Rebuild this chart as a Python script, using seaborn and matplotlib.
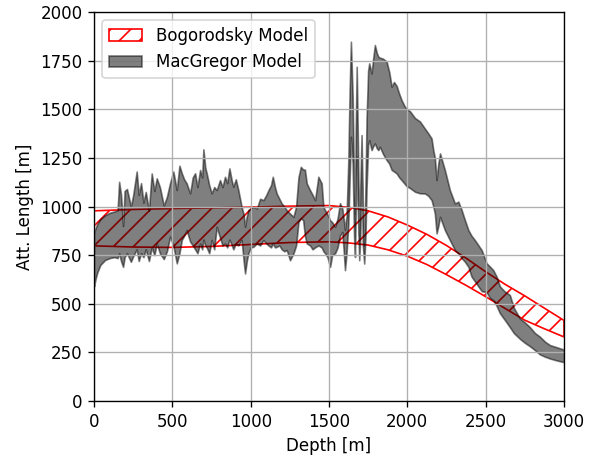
import numpy as np
import matplotlib
matplotlib.use('Agg')
import matplotlib.pyplot as plt
import seaborn as sns

# Bogorodsky model band (depth in m, attenuation length in m)
bog_depth = [0, 250, 500, 750, 1000, 1250, 1500, 1625, 1750, 1875, 2000,
             2125, 2250, 2375, 2500, 2625, 2750, 2875, 3000]
bog_upper = [978, 985, 990, 993, 997, 1002, 1005, 996, 978, 947, 905,
             857, 800, 735, 665, 600, 541, 478, 415]
bog_lower = [798, 792, 790, 795, 805, 815, 819, 813, 802, 778, 745,
             702, 650, 595, 537, 476, 416, 372, 330]

# MacGregor model band
mac_depth = [
    0, 10, 20, 40, 70, 100, 130, 150, 160, 172,
    185, 195, 210, 235, 250, 272, 285, 300, 315, 330,
    350, 368, 385, 400, 420, 445, 465, 485, 506, 528,
    545, 560, 575, 591, 613, 630, 645, 660, 677, 690,
    698, 710, 719, 735, 751, 767, 783, 804, 820, 836,
    850, 864, 880, 889, 905, 921, 942, 955, 964, 975,
    985, 1000, 1017, 1039, 1060, 1081, 1100, 1113, 1130, 1141,
    1155, 1166, 1183, 1198, 1215, 1230, 1251, 1273, 1290, 1305,
    1320, 1335, 1346, 1358, 1379, 1395, 1411, 1432, 1453, 1464,
    1475, 1490, 1507, 1520, 1539, 1555, 1570, 1585, 1595, 1602,
    1612, 1623, 1632, 1640, 1651, 1660, 1666, 1671, 1677, 1685,
    1693, 1700, 1708, 1716, 1725, 1733, 1740, 1750, 1757, 1772,
    1782, 1793, 1805, 1815, 1825, 1845, 1868, 1885, 1900, 1915,
    1932, 1948, 1963, 1980, 1995, 2017, 2049, 2081, 2113, 2134,
    2155, 2166, 2176, 2187, 2198, 2209, 2240, 2272, 2304, 2326,
    2347, 2368, 2390, 2410, 2432, 2475, 2506, 2528, 2549, 2570,
    2591, 2620, 2655, 2680, 2719, 2750, 2783, 2815, 2847, 2880,
    2911, 2950, 3000,
]
mac_upper = [
    865, 890, 910, 935, 955, 968, 975, 980, 1127, 1060,
    900, 1080, 1090, 1000, 1060, 1180, 1060, 1120, 1020, 1075,
    980, 1170, 1080, 1145, 1100, 1005, 1050, 1120, 1180, 1085,
    1210, 1171, 1140, 1119, 1068, 1150, 1171, 1100, 1188, 1150,
    1294, 1200, 1171, 1110, 1068, 1100, 1085, 1136, 1100, 1153,
    1120, 1196, 1130, 1102, 1140, 1085, 999, 960, 896, 950,
    982, 990, 999, 990, 1040, 1033, 1060, 1084, 1110, 1153,
    1100, 1067, 1040, 1016, 1000, 981, 964, 947, 1000, 1150,
    1204, 1190, 1190, 1119, 1084, 1060, 1033, 1153, 1119, 1000,
    981, 960, 930, 920, 896, 940, 1017, 990, 930, 880,
    950, 1221, 1600, 1847, 1564, 1100, 964, 1400, 1718, 1300,
    850, 1100, 1367, 1000, 800, 1100, 1450, 1700, 1736, 1684,
    1760, 1830, 1790, 1770, 1765, 1760, 1745, 1690, 1616, 1640,
    1620, 1580, 1548, 1520, 1500, 1490, 1455, 1437, 1400, 1376,
    1350, 1290, 1250, 1136, 1220, 1273, 1187, 1084, 1016, 1025,
    982, 930, 879, 850, 827, 776, 709, 691, 673, 640,
    590, 565, 545, 480, 425, 405, 380, 350, 331, 305,
    288, 278, 265,
]
mac_lower = [
    590, 630, 660, 700, 725, 735, 740, 735, 760, 720,
    690, 740, 760, 716, 745, 780, 720, 760, 740, 780,
    720, 790, 750, 810, 760, 730, 770, 845, 800, 708,
    760, 828, 850, 879, 820, 800, 780, 760, 810, 780,
    830, 800, 790, 760, 828, 780, 896, 840, 800, 810,
    790, 830, 800, 780, 810, 800, 828, 720, 656, 720,
    759, 790, 793, 810, 800, 827, 810, 800, 790, 810,
    790, 793, 800, 780, 770, 776, 724, 759, 800, 920,
    940, 930, 850, 810, 800, 780, 790, 800, 790, 770,
    760, 740, 690, 750, 760, 790, 850, 870, 760, 673,
    760, 900, 1150, 1359, 1221, 850, 741, 1000, 1256, 950,
    724, 850, 1187, 800, 707, 850, 1100, 1320, 1341, 1290,
    1310, 1324, 1300, 1290, 1307, 1270, 1239, 1220, 1188, 1180,
    1170, 1150, 1136, 1120, 1105, 1095, 1076, 1068, 1067, 1055,
    1033, 1000, 964, 862, 900, 947, 879, 827, 776, 759,
    735, 716, 690, 640, 615, 565, 560, 530, 519, 490,
    452, 420, 380, 350, 320, 300, 282, 262, 240, 228,
    219, 210, 200,
]

sns.set_style('ticks')
plt.rcParams.update({
    'font.family': 'DejaVu Sans',
    'axes.grid': True,
    'axes.axisbelow': 'line',
    'grid.color': '#b0b0b0',
    'axes.edgecolor': 'black',
    'axes.labelcolor': 'black',
    'xtick.color': 'black',
    'ytick.color': 'black',
    'text.color': 'black',
})

fig, ax = plt.subplots(figsize=(607 / 120, 460 / 120), dpi=120)
fig.subplots_adjust(left=0.155, right=0.929, bottom=0.128, top=0.974)

ax.fill_between(bog_depth, bog_lower, bog_upper, facecolor='none',
                edgecolor='red', hatch='//', label='Bogorodsky Model')
ax.fill_between(mac_depth, mac_lower, mac_upper, color='k', alpha=0.5,
                label='MacGregor Model')

ax.set_xlim(0, 3000)
ax.set_ylim(0, 2000)
ax.set_xticks(np.arange(0, 3001, 500))
ax.set_yticks(np.arange(0, 2001, 250))
ax.set_xlabel('Depth [m]')
ax.set_ylabel('Att. Length [m]')
ax.legend(loc='upper left', frameon=True)

fig.savefig('out.png', dpi=120)
